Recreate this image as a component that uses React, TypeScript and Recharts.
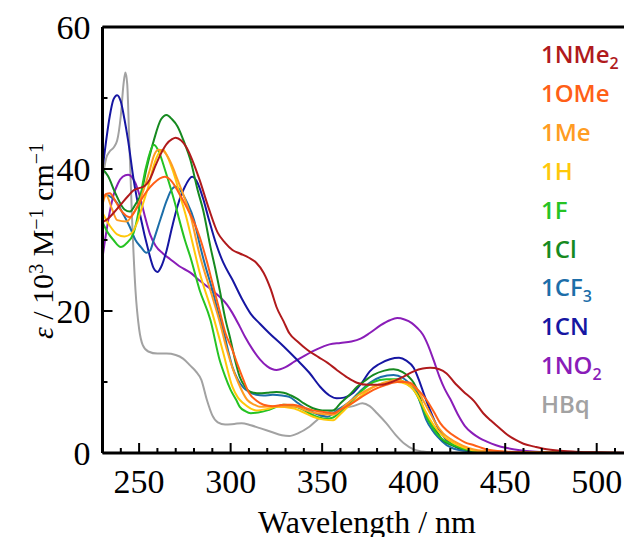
import React from 'react';
import { LineChart, Line, XAxis, YAxis, ReferenceLine } from 'recharts';

type Pt = [number, number];

// wavelength (nm), epsilon (10^3 M^-1 cm^-1)
const nme2: Pt[] = [[230,32.5],[233,33],[236,33.8],[240,35],[244,36.2],[247,37],[250,37.3],[253,37.6],[256,38.6],[259,40.5],[262,42.2],[265,43.5],[268,44.2],[270,44.4],[273,44],[276,43],[279,41.3],[283,38.5],[288,34.5],[293,31],[297,29.6],[301,28.6],[305,28.1],[310,27.5],[314,26.8],[318,25.4],[322,23],[325,20.6],[329,18.5],[332,16.9],[337,15.6],[342,14.5],[348,13.5],[353,12.7],[358,11.7],[364,10.6],[369,9.9],[375,9.6],[382,9.6],[388,10],[394,10.7],[400,11.5],[405,11.9],[409,12],[414,11.8],[418,11.2],[422,10],[427,8.7],[433,7.3],[438,5.6],[442,4.6],[447,3.5],[451,2.6],[456,1.8],[460,1.3],[466,0.9],[471,0.6],[480,0.3],[490,0.15],[500,0.1],[515,0.05]];
const ome: Pt[] = [[230,35.6],[232,36.5],[234,36.6],[237,35.5],[240,34.2],[245,33.2],[248,34.2],[251,35.6],[254,36.8],[258,38],[264,38.9],[268,38.2],[272,36.5],[276,34.6],[280,32.5],[283,30.5],[287,27],[290,24],[294,20],[297,17],[301,14.5],[304,12.3],[307,10.3],[310,8.5],[314,7.4],[318,6.8],[323,6.6],[329,6.8],[334,6.8],[340,6.4],[345,6],[350,5.8],[356,5.6],[360,6.1],[365,6.8],[371,7.8],[378,8.9],[385,9.6],[391,10],[395,10],[398,9.9],[402,9],[407,7.5],[411,5.8],[414.5,4.2],[418,3.2],[424,2.1],[428,1.5],[433,1.1],[440,0.5],[450,0.2],[460,0.1],[515,0]];
const me: Pt[] = [[230,35],[232,36.3],[235,34.5],[238,32.8],[243,32.6],[247,33.8],[250.5,35.6],[253,37.5],[256,40],[258,41.8],[260.5,42.7],[263,42.6],[265,42],[268,40.5],[271,38.5],[274,36.5],[278,33.5],[283,28],[290,22],[294,18.5],[298,14.5],[301,12],[304,10],[309,7.5],[313,6.8],[316,6.5],[325,6.6],[336,6.5],[341,6],[347,5.6],[356,5.4],[363,6.8],[370,8.2],[378,9.3],[385,10],[391,10.3],[396,9.9],[402,8.9],[405,7.5],[409,5.6],[412,4.2],[416,2.8],[420,2],[424,1.4],[430,0.7],[435,0.4],[450,0.1],[515,0]];
const h: Pt[] = [[230,33.8],[234,32],[238,30.8],[242,30.5],[246,31],[249,32.5],[252,35],[255,37.5],[258,40.5],[261,42.3],[263,42.7],[265,42],[267,40.8],[270,38.5],[272,36.6],[276,33],[279,29.8],[283,25.5],[290,19.7],[296,14.1],[301,9.3],[304,7.8],[307,7],[314,6],[320,6.2],[325,6.5],[334,6.3],[340,5.7],[345,5.1],[351,4.7],[356,4.6],[360,5.5],[364,6.5],[371,8],[378,9.3],[385,9.9],[391,10],[396,9.7],[400,8.9],[404,7.2],[407,5.6],[411,3.9],[414.5,2.8],[418,2],[422,1.4],[427,0.8],[432,0.4],[445,0.1],[515,0]];
const f: Pt[] = [[230,32.5],[233,31],[236,30],[240,29],[243,29.5],[247,31],[250,34.5],[252,38],[255,41.5],[258,43.4],[261,42.3],[264,40],[267,37.5],[270,34.8],[272,32.8],[275,30],[278,27.6],[283,23],[289,18.7],[294,13.1],[297,10.8],[300,8.9],[303,7.5],[305,6.5],[308,5.9],[311,5.6],[315,5.7],[320,6],[325,6.5],[329,6.8],[334,6.6],[338,6.3],[343,5.6],[347,5.1],[352,4.8],[356,5],[360,5.8],[365,7],[371,8.6],[378,10],[385,10.4],[391,10.4],[396,9.8],[400,8.9],[404,7],[407,5.1],[410,3.7],[414,2.3],[418,1.6],[422,1.1],[427,0.6],[432,0.3],[440,0.1],[515,0]];
const cl: Pt[] = [[230,40],[233,39],[237,36.6],[242,34.3],[245,34],[248,35],[251,36.5],[254,40],[258,44],[262,47],[265,47.6],[268,47],[271,46],[275,43.5],[278,41.3],[282,37],[285,34.2],[289,29],[292,25.5],[294,23],[297,19],[300,15.9],[303,12.5],[305,10.7],[308,9.3],[311,8.6],[316,8.4],[320,8.5],[325,8.6],[329,8.5],[333,8.1],[336,7.7],[340,7],[345,6.3],[350,6],[356,6],[360,7],[365,8.2],[369,9.3],[374,10.3],[378,11],[384,11.6],[389,11.8],[394,11.4],[397,10.8],[400,9.9],[403,8.2],[405,6.5],[408,5],[411,3.7],[416,1.8],[420,1.2],[424,0.8],[430,0.4],[440,0.1],[515,0]];
const cf3: Pt[] = [[230,36],[232,36.3],[235,36],[238,35.2],[241,33.8],[245,31.8],[248,30],[251,29],[254,28.2],[256,28.5],[258,30],[262,33.2],[265,35.5],[268,37.2],[270,37.5],[273,36.8],[276,35.4],[280,32.8],[283,29.5],[286,26.5],[290,23],[293,20],[296,17.3],[299,14],[301,12.1],[304,10.3],[307,9.2],[310,8.6],[314,8.2],[318,8.1],[323,8.2],[328,8.1],[332,7.9],[337,7],[342,6.1],[347,5.5],[353,5.1],[356,5.6],[360,6.3],[365,7.2],[370,8.5],[376,9.9],[382,10.7],[389,11],[394,10.6],[398,9.7],[401.6,8.5],[404,6.8],[407,4.6],[410,3.3],[413,2.3],[418,1.1],[422,0.6],[428,0.3],[440,0.1],[515,0]];
const cn: Pt[] = [[230,40],[232,44],[234,47.5],[236,49.8],[238,50.4],[240,49.5],[242,47],[244,44],[247,38.5],[251,33],[255,28.6],[258,26],[260,25.5],[262,26.2],[265,28.5],[268,31.8],[271,34.8],[275,37.5],[279,38.9],[282,38],[285,35.8],[288,33],[292,29.5],[296,26.8],[301,24.4],[306,21.8],[311,19.6],[316,18.2],[321,16.9],[329,15],[336,13.2],[343,11.3],[349,9.3],[354,8.1],[358,7.7],[362,7.8],[367,8.5],[372,10],[376,11.5],[381,12.5],[387,13.2],[392,13.4],[396,13],[400,12],[403,10.2],[406,8],[409,6],[412,4.2],[415,2.8],[420,1.4],[425,0.6],[430,0.3],[440,0.1],[515,0]];
const no2: Pt[] = [[230,27.5],[232,31],[234,34],[236,36.3],[238.5,38],[241,38.9],[244,39.2],[246,38.9],[248,38],[250,36.5],[253,33.5],[256,30.8],[259,29.2],[263,28.1],[267,27.3],[272,26.3],[278,25.4],[283,24.3],[288,23.3],[294,22],[298,20.9],[301,19.7],[305,17.8],[308,16.3],[312,14.6],[316,13.2],[320,12.2],[325,11.7],[330,12.1],[335,12.9],[341,13.8],[347,14.6],[354,15.3],[360,15.5],[366,15.7],[371,16.1],[376,16.9],[382,18],[387,18.7],[391,19],[395,18.8],[399,18.3],[402,17.6],[405,16.7],[408,15.1],[411,13],[414,10.8],[417,9],[420,7.6],[424,5.5],[428,3.8],[432,2.8],[436,2.1],[440,1.6],[445,1.1],[451,0.7],[458,0.4],[465,0.2],[475,0.1],[515,0]];
const hbq: Pt[] = [[230,38.5],[232,41.5],[234,42.5],[236,43],[238,44],[240,47.5],[241.5,52],[242.5,53.6],[243.5,52],[244.5,45],[246,34],[248,23],[250,17.5],[252,15.2],[255,14.3],[260,14],[265,14],[270,13.8],[274,13.3],[278,12.3],[281,11.5],[284,10.3],[287,7.5],[290,5.3],[293,4.3],[297,4],[302,4.1],[306,4.2],[311,3.9],[316,3.5],[322,3],[328,2.5],[332,2.4],[337,2.8],[343,3.7],[349,5],[355,5.9],[361,6.3],[367,6.6],[372,7],[376,6.6],[380,5.6],[385,4.2],[390,2.6],[395,1.3],[400,0.5],[405,0.2],[410,0.1]];

const seriesNames = ['1NMe', '1OMe', '1Me', '1H', '1F', '1Cl', '1CF', '1CN', '1NO', 'HBq'];
const seriesSubs = ['2', '', '', '', '', '', '3', '', '2', ''];
const seriesColors = ['#b01a1c', '#ff5f17', '#ff9c22', '#ffc80a', '#26c323', '#168a20', '#1c6ea9', '#1616a2', '#8a1db8', '#a2a2a2'];
const seriesData = [nme2, ome, me, h, f, cl, cf3, cn, no2, hbq];

const xTicks = [240, 250, 260, 270, 280, 290, 300, 310, 320, 330, 340, 350, 360, 370, 380, 390, 400, 410, 420, 430, 440, 450, 460, 470, 480, 490, 500, 510];
const yTicks = [0, 10, 20, 30, 40, 50, 60];

const serif = '"Liberation Serif", "Times New Roman", serif';

const XTick = (props: any) => {
  const { x, y, payload } = props;
  const major = payload.value % 50 === 0;
  return (
    <g>
      <line x1={x} x2={x} y1={y} y2={y - (major ? 10 : 5)} stroke="#000" strokeWidth={2} />
      {major && (
        <text x={x} y={y + 40} textAnchor="middle" fontSize={34} fontFamily={serif} fill="#000">
          {payload.value}
        </text>
      )}
    </g>
  );
};

const YTick = (props: any) => {
  const { x, y, payload } = props;
  const major = payload.value % 20 === 0;
  return (
    <g>
      <line x1={x} x2={x + (major ? 10 : 5)} y1={y} y2={y} stroke="#000" strokeWidth={2} />
      {major && (
        <text x={x - 12} y={y} dy="0.35em" textAnchor="end" fontSize={34} fontFamily={serif} fill="#000">
          {payload.value}
        </text>
      )}
    </g>
  );
};

const supStyle = { fontSize: 20, verticalAlign: '0.5em' };

export default function App() {
  return (
    <div style={{ position: 'absolute', left: 0, top: 0, width: 624, height: 537, overflow: 'hidden', background: '#fff' }}>
      <LineChart width={630} height={537} margin={{ top: 27, right: 4, bottom: 44, left: 42.5 }}>
        <XAxis
          type="number"
          dataKey="x"
          domain={[230, 516]}
          ticks={xTicks}
          interval={0}
          allowDataOverflow
          height={40}
          tickSize={0}
          tickMargin={0}
          tickLine={false}
          axisLine={{ stroke: '#000', strokeWidth: 3 }}
          tick={<XTick />}
        />
        <YAxis
          type="number"
          domain={[0, 60]}
          ticks={yTicks}
          interval={0}
          width={60}
          tickSize={0}
          tickMargin={0}
          tickLine={false}
          axisLine={{ stroke: '#000', strokeWidth: 3 }}
          tick={<YTick />}
        />
        <ReferenceLine y={60} stroke="#000" strokeWidth={3} ifOverflow="visible" />
        {seriesData.map((d, i) => i).reverse().map((i) => (
          <Line
            key={seriesNames[i]}
            data={seriesData[i].map(([x, y]) => ({ x, y }))}
            dataKey="y"
            type="monotone"
            stroke={seriesColors[i]}
            strokeWidth={2}
            dot={false}
            activeDot={false}
            isAnimationActive={false}
          />
        ))}
      </LineChart>

      {/* legend: coloured labels only */}
      {seriesNames.map((name, i) => (
        <div
          key={name}
          style={{
            position: 'absolute',
            left: 541,
            top: 42 + i * 38.9,
            fontFamily: '"Open Sans", sans-serif',
            fontWeight: 600,
            fontSize: 24,
            lineHeight: '24px',
            color: seriesColors[i],
            whiteSpace: 'nowrap',
          }}
        >
          {name}
          {seriesSubs[i] && <sub style={{ fontSize: 16, verticalAlign: '-0.35em' }}>{seriesSubs[i]}</sub>}
        </div>
      ))}

      <div
        style={{
          position: 'absolute',
          left: 39,
          top: 241,
          transform: 'translate(-50%, -50%) rotate(-90deg)',
          fontFamily: serif,
          fontSize: 30,
          lineHeight: '30px',
          whiteSpace: 'nowrap',
          color: '#000',
        }}
      >
        <i>ε</i> / 10<sup style={supStyle}>3</sup> M<sup style={supStyle}>−1</sup> cm<sup style={supStyle}>−1</sup>
      </div>

      <div
        style={{
          position: 'absolute',
          left: 367,
          top: 506,
          transform: 'translateX(-50%)',
          fontFamily: serif,
          fontSize: 32,
          lineHeight: '32px',
          whiteSpace: 'nowrap',
          color: '#000',
        }}
      >
        Wavelength / nm
      </div>
    </div>
  );
}
